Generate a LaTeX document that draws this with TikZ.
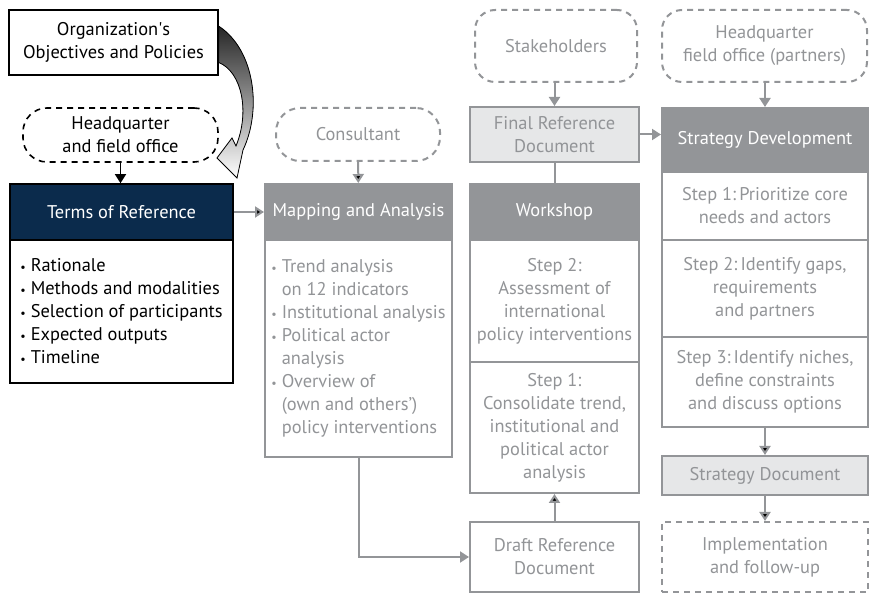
\documentclass[tikz,border=0pt]{standalone}
\usepackage{fontspec}
\setmainfont{PT Sans}
\usetikzlibrary{arrows.meta}
\definecolor{navy}{HTML}{0B2B4C}
\definecolor{mid}{HTML}{939598}
\definecolor{txt}{HTML}{929497}
\definecolor{pale}{HTML}{E6E7E8}
\newcommand{\bul}{{\fontsize{6}{6}\selectfont\textbullet}\ }
\newcommand{\ind}{\hphantom{\bul}}

\begin{document}
\begin{tikzpicture}[x=0.5pt,y=-0.5pt,
  every node/.style={font=\fontsize{9.2}{11.5}\selectfont, align=center, inner sep=0pt},
  blk/.style={draw=black, line width=0.8pt},
  box/.style={draw=mid, line width=1pt, text=txt},
  head/.style={draw=mid, fill=mid, line width=1pt, text=white},
  doc/.style={draw=mid, fill=pale, line width=1pt, text=txt},
  cloud/.style={draw=mid, dash pattern=on 3pt off 2.5pt, line width=1pt, text=txt, rounded corners=10pt},
  gr/.style={draw=mid, line width=1pt, -{Triangle[width=5.5pt,length=4.5pt]}},
  bk/.style={draw=black, line width=0.8pt, -{Triangle[width=5.5pt,length=4.5pt]}}]
  \useasboundingbox (0,0) rectangle (869,593);

  \node at (113.5,42.5) (org) [blk, minimum width=104.5pt, minimum height=32.5pt] {Organization\textquotesingle s\\Objectives and Policies};
  \node at (120.5,135) (hq) [blk, dash pattern=on 3pt off 2.5pt, rounded corners=12pt, minimum width=97.5pt, minimum height=27pt] {Headquarter\\and field office};
  \node at (121.5,212) (tor) [blk, fill=navy, text=white, minimum width=111.5pt, minimum height=28pt] {Terms of Reference};
  \node at (121.5,311.5) (torbody) [blk, align=left, minimum width=111.5pt, minimum height=71.5pt] {\bul Rationale\\\bul Methods and modalities\\\bul Selection of participants\\\bul Expected outputs\\\bul Timeline};

  \node at (358,134.5) (cons) [cloud, rounded corners=12pt, minimum width=82pt, minimum height=26.5pt] {Consultant};
  \node at (358.5,212) (map) [head, minimum width=93.5pt, minimum height=28pt] {Mapping and Analysis};
  \node at (358.5,348.5) (mapbody) [box, align=left, minimum width=93.5pt, minimum height=108.5pt] {\bul Trend analysis\\\ind on 12 indicators\\\bul Institutional analysis\\\bul Political actor\\\ind analysis\\\bul Overview of\\\ind (own and others’)\\\ind policy interventions};

  \node at (556,46) (stake) [cloud, minimum width=81pt, minimum height=36pt] {Stakeholders};
  \node at (554.5,134.5) (final) [doc, minimum width=84.5pt, minimum height=27.5pt] {Final Reference\\Document};
  \node at (554.5,212) (work) [head, minimum width=84.5pt, minimum height=28pt] {Workshop};
  \node at (554.5,301) (ws2) [box, minimum width=84.5pt, minimum height=61pt] {Step 2:\\Assessment of\\international\\policy interventions};
  \node at (554.5,427.5) (ws1) [box, minimum width=84.5pt, minimum height=65.5pt] {Step 1:\\Consolidate trend,\\institutional and\\political actor\\analysis};
  \node at (554.5,557) (draft) [box, minimum width=84.5pt, minimum height=35pt] {Draft Reference\\Document};

  \node at (764.5,46) (part) [cloud, minimum width=102.5pt, minimum height=36pt] {Headquarter\\field office (partners)};
  \node at (765,140) (sdev) [head, minimum width=103pt, minimum height=32pt] {Strategy Development};
  \node at (765,206) (sd1) [box, minimum width=103pt, minimum height=34pt] {Step 1:\,Prioritize core\\needs and actors};
  \node at (765,288.5) (sd2) [box, minimum width=103pt, minimum height=48.5pt] {Step 2:\,Identify gaps,\\requirements\\and partners};
  \node at (765,382) (sd3) [box, minimum width=103pt, minimum height=45pt] {Step 3:\,Identify niches,\\define constraints\\and discuss options};
  \node at (765,475.5) (sdoc) [doc, minimum width=103pt, minimum height=19.5pt] {Strategy Document};
  \node at (765,557) (impl) [box, dash pattern=on 3pt off 2.5pt, minimum width=103pt, minimum height=35pt] {Implementation\\and follow-up};

  \coordinate (tip) at (217,158);
  \filldraw[top color=black!85, bottom color=white, draw=black, line width=0.4pt]
    ([yshift=-8.5pt]org.north east) .. controls (255,50) and (262,110) .. (243,150)
    -- (237,178) -- (tip) -- (232,138) -- (236,146)
    .. controls (250,112) and (242,72) .. ([yshift=-10pt]org.east) -- cycle;

  \draw[bk] (hq.south) -- (hq.south |- tor.north);
  \path[gr] (tor) edge (map);
  \path[gr] (cons) edge (map);
  \draw[gr] (mapbody.south) |- (draft);
  \path[gr] (draft) edge (ws1);
  \draw[gr] (stake.south -| final) -- (final);
  \draw[mid, line width=1pt] (final) -- (work);
  \draw[gr] (final.east) -- (final.east -| sdev.west);
  \draw[gr] (part.south -| sdev) -- (sdev);
  \path[gr] (sd3) edge (sdoc);
  \path[gr] (sdoc) edge (impl);
\end{tikzpicture}
\end{document}
